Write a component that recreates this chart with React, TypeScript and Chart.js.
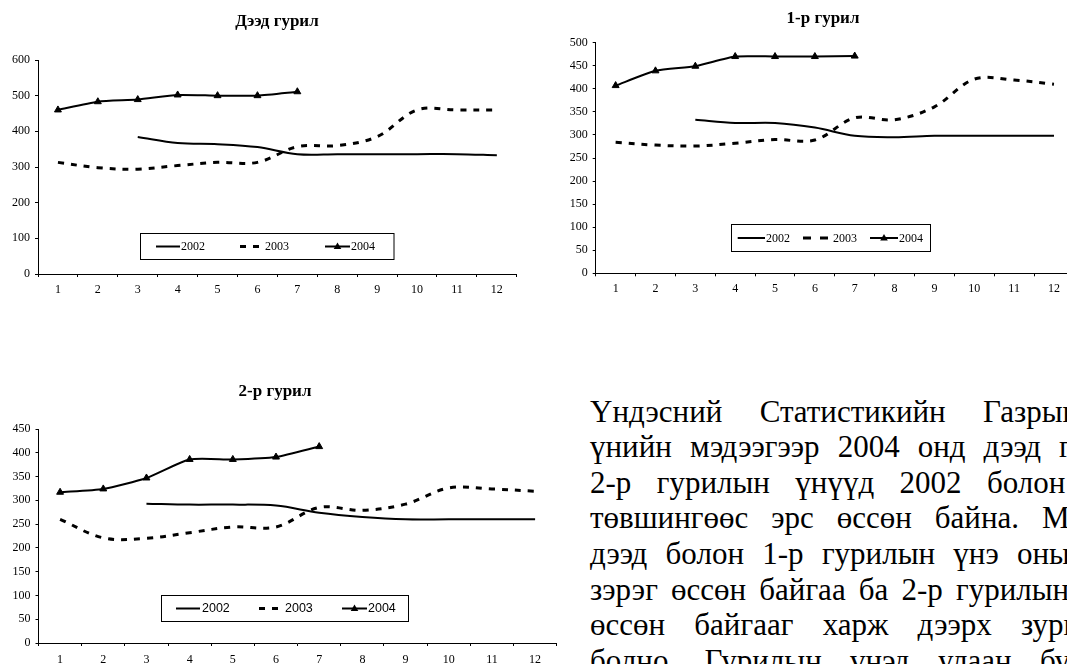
import React, { useEffect, useRef, useMemo } from "react";
import { Chart, registerables } from "chart.js";
Chart.register(...registerables);

// ---------- data ----------
const months = ["1", "2", "3", "4", "5", "6", "7", "8", "9", "10", "11", "12"];
const seriesNames = ["2002", "2003", "2004"];

// Дээд гурил
const deed2002 = [null, null, 384, 367, 364, 356, 336, 336, 336, 336, 336, 333];
const deed2003 = [313, 298, 294, 304, 313, 313, 357, 360, 385, 460, 460, 460];
const deed2004 = [460, 483, 489, 502, 500, 500, 511, null, null, null, null, null];

// 1-р гурил
const first2002 = [null, null, 333, 326, 326, 316, 298, 295, 298, 298, 298, 298];
const first2003 = [284, 278, 276, 282, 290, 289, 337, 333, 361, 421, 419, 410];
const first2004 = [407, 439, 449, 470, 470, 470, 471, null, null, null, null, null];

// 2-р гурил
const second2002 = [null, null, 293, 291, 291, 289, 274, 265, 260, 260, 260, 260];
const second2003 = [260, 221, 220, 232, 244, 244, 285, 279, 292, 326, 324, 319];
const second2004 = [317, 324, 347, 386, 386, 391, 413, null, null, null, null, null];

const titles = ["Дээд гурил", "1-р гурил", "2-р гурил"];

const paraLines = [
  "Үндэсний Статистикийн Газрын",
  "үнийн мэдээгээр 2004 онд дээд гурил,",
  "2-р гурилын үнүүд 2002 болон",
  "төвшингөөс эрс өссөн байна. Мөн",
  "дээд болон 1-р гурилын үнэ оны",
  "зэрэг өссөн байгаа ба 2-р гурилын",
  "өссөн байгааг харж дээрх зургаас",
  "болно. Гурилын үнэд улаан буудай",
];
// x (page px) where the last visible word of each justified line begins
const lastWordX = [983, 1059, 987, 1042, 1017, 956, 1021, 1040];

// ---------- layout ----------
type LegendSpec = {
  x: number; y: number; w: number; h: number;
  items: { x1: number; x2: number; tx: number }[];
  font: string; dash: number[];
};
type Spec = {
  title: string; titleX: number; titleBase: number;
  left: number; top: number; cw: number; ch: number;
  area: { l: number; t: number; r: number; b: number };
  yMax: number; yStep: number; labelPad: number;
  data: (number | null)[][];
  legend: LegendSpec;
};

const SERIF = '"Liberation Serif", "Times New Roman", serif';
const SANS = '"Liberation Sans", Arial, sans-serif';
const X_AXIS_H = 30;

const specs: Spec[] = [
  {
    title: titles[0], titleX: 277, titleBase: 26,
    left: 0, top: 0, cw: 540, ch: 310,
    area: { l: 38, t: 60, r: 516.8, b: 274 },
    yMax: 600, yStep: 100, labelPad: 5.8,
    data: [deed2002, deed2003, deed2004],
    legend: {
      x: 139.5, y: 233, w: 253.5, h: 26, font: `12px ${SERIF}`, dash: [6, 7],
      items: [{ x1: 156, x2: 180, tx: 181 }, { x1: 240, x2: 259, tx: 265 }, { x1: 325, x2: 350, tx: 351 }],
    },
  },
  {
    title: titles[1], titleX: 263, titleBase: 22.7,
    left: 560, top: 0, cw: 530, ch: 310,
    area: { l: 35.7, t: 42.7, r: 513.9, b: 273.3 },
    yMax: 500, yStep: 50, labelPad: 5.5,
    data: [first2002, first2003, first2004],
    legend: {
      x: 171, y: 224, w: 199, h: 27, font: `12px ${SERIF}`, dash: [8, 9],
      items: [{ x1: 177.7, x2: 205, tx: 206 }, { x1: 243, x2: 268, tx: 273 }, { x1: 310, x2: 338, tx: 339 }],
    },
  },
  {
    title: titles[2], titleX: 275, titleBase: 26.4,
    left: 0, top: 370, cw: 580, ch: 310,
    area: { l: 38.5, t: 59, r: 556.7, b: 273 },
    yMax: 450, yStep: 50, labelPad: 6.8,
    data: [second2002, second2003, second2004],
    legend: {
      x: 161, y: 225, w: 247, h: 26, font: `12.5px ${SANS}`, dash: [6, 7],
      items: [{ x1: 176, x2: 200, tx: 202 }, { x1: 259, x2: 278, tx: 285 }, { x1: 342, x2: 367, tx: 368 }],
    },
  },
];

function drawTriangle(ctx: CanvasRenderingContext2D, x: number, y: number, r: number) {
  ctx.beginPath();
  ctx.moveTo(x, y - r);
  ctx.lineTo(x + r * 0.95, y + r * 0.6);
  ctx.lineTo(x - r * 0.95, y + r * 0.6);
  ctx.closePath();
  ctx.fill();
}

function FlourChart({ spec }: { spec: Spec }) {
  const ref = useRef<HTMLCanvasElement>(null);
  useEffect(() => {
    if (!ref.current) return;
    const a = spec.area;
    const deco = {
      id: "deco",
      afterDraw(chart: any) {
        const ctx: CanvasRenderingContext2D = chart.ctx;
        ctx.save();
        ctx.fillStyle = "#000";
        ctx.font = `bold 17px ${SERIF}`;
        ctx.textAlign = "center";
        ctx.textBaseline = "alphabetic";
        ctx.fillText(spec.title, spec.titleX, spec.titleBase);

        const L = spec.legend;
        ctx.strokeStyle = "#000";
        ctx.lineWidth = 1;
        ctx.strokeRect(Math.round(L.x) + 0.5, Math.round(L.y) + 0.5, L.w, L.h);
        const cy = L.y + L.h / 2 + 0.5;
        L.items.forEach((it, i) => {
          ctx.beginPath();
          ctx.setLineDash(i === 1 ? L.dash : []);
          ctx.lineWidth = i === 1 ? 3 : 2;
          ctx.moveTo(it.x1, cy);
          ctx.lineTo(it.x2, cy);
          ctx.stroke();
          ctx.setLineDash([]);
          if (i === 2) drawTriangle(ctx, (it.x1 + it.x2) / 2, cy, 4);
          ctx.font = L.font;
          ctx.textAlign = "left";
          ctx.textBaseline = "middle";
          ctx.fillText(seriesNames[i], it.tx, cy + 0.5);
        });
        ctx.restore();
      },
    };
    const chart = new Chart(ref.current, {
      type: "line",
      data: {
        labels: months,
        datasets: [
          {
            label: seriesNames[0], data: spec.data[0] as any,
            borderColor: "#000", borderWidth: 2, pointRadius: 0, tension: 0.35, fill: false,
          },
          {
            label: seriesNames[1], data: spec.data[1] as any,
            borderColor: "#000", borderWidth: 3, borderDash: [6, 7], pointRadius: 0, tension: 0.35, fill: false,
          },
          {
            label: seriesNames[2], data: spec.data[2] as any,
            borderColor: "#000", borderWidth: 2, tension: 0.2, fill: false,
            pointStyle: "triangle", pointRadius: 4, pointBackgroundColor: "#000", pointBorderColor: "#000",
            pointBorderWidth: 1,
          },
        ],
      },
      options: {
        responsive: false,
        animation: false,
        events: [],
        layout: {
          padding: { left: 0, top: a.t, right: spec.cw - a.r, bottom: spec.ch - a.b - X_AXIS_H },
        },
        plugins: { legend: { display: false }, title: { display: false }, tooltip: { enabled: false } },
        scales: {
          x: {
            type: "category",
            offset: true,
            grid: { offset: true, drawOnChartArea: false, drawTicks: true, tickLength: 3, color: "#000", tickColor: "#000", lineWidth: 1 },
            border: { display: true, color: "#000", width: 1 },
            ticks: { color: "#000", font: { family: SERIF, size: 12 }, padding: spec.labelPad, maxRotation: 0, autoSkip: false },
            afterFit: (s: any) => { s.height = X_AXIS_H; },
          },
          y: {
            min: 0, max: spec.yMax,
            grid: { drawOnChartArea: false, drawTicks: true, tickLength: 3, color: "#000", tickColor: "#000" },
            border: { display: true, color: "#000", width: 1 },
            ticks: { stepSize: spec.yStep, color: "#000", font: { family: SERIF, size: 12 }, padding: 5 },
            afterFit: (s: any) => { s.width = a.l; },
          },
        },
      },
      plugins: [deco],
    } as any);
    return () => chart.destroy();
  }, [spec]);
  return (
    <canvas
      ref={ref}
      width={spec.cw}
      height={spec.ch}
      style={{ position: "absolute", left: spec.left, top: spec.top, width: spec.cw, height: spec.ch }}
    />
  );
}

const PARA_LEFT = 590;
const PARA_TOP = 393.7;
const PARA_FONT = 31;
const PARA_LH = 35.6;

function Paragraph() {
  const spacings = useMemo(() => {
    const c = document.createElement("canvas").getContext("2d")!;
    c.font = `${PARA_FONT}px ${SERIF}`;
    return paraLines.map((line, i) => {
      const words = line.split(" ");
      const prefix = words.slice(0, -1).join(" ") + " ";
      const natural = c.measureText(prefix).width;
      const n = words.length - 1;
      return (lastWordX[i] - PARA_LEFT - natural) / n;
    });
  }, []);
  return (
    <div
      style={{
        position: "absolute", left: PARA_LEFT, top: PARA_TOP,
        fontFamily: SERIF, fontSize: PARA_FONT, lineHeight: `${PARA_LH}px`, color: "#000",
      }}
    >
      {paraLines.map((l, i) => (
        <div key={i} style={{ whiteSpace: "nowrap", wordSpacing: `${spacings[i]}px` }}>{l}</div>
      ))}
    </div>
  );
}

export default function App() {
  return (
    <div
      style={{
        position: "fixed", left: 0, top: 0, width: 1067, height: 664,
        overflow: "hidden", background: "#fff",
      }}
    >
      {specs.map((s, i) => (
        <FlourChart key={i} spec={s} />
      ))}
      <Paragraph />
    </div>
  );
}
